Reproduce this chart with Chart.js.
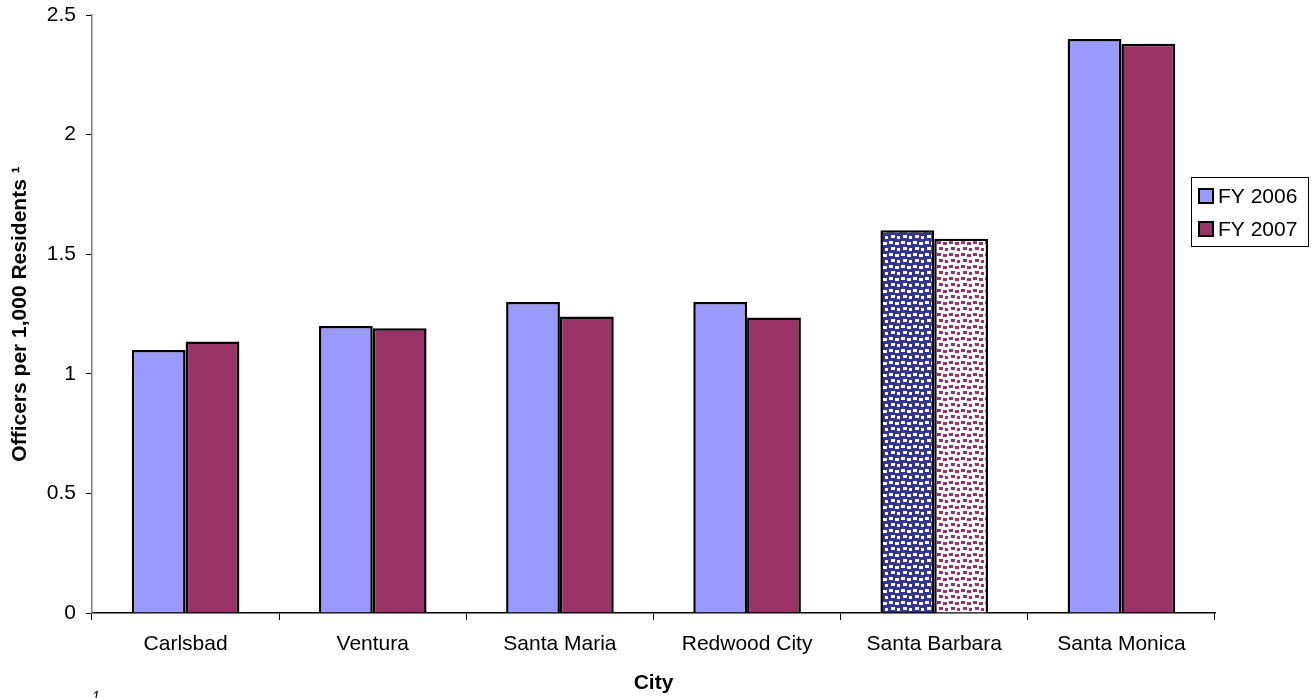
<!DOCTYPE html>
<html>
<head>
<meta charset="utf-8">
<script src="https://cdn.jsdelivr.net/npm/chart.js@4"></script>
<style>
  html, body { margin: 0; padding: 0; background: #fff; }
  #wrap { width: 1314px; height: 698px; position: relative; }
</style>
</head>
<body>
<div id="wrap"><canvas id="chart" width="1314" height="698"></canvas></div>
<script>
// chart data
const cities = ['Carlsbad', 'Ventura', 'Santa Maria', 'Redwood City', 'Santa Barbara', 'Santa Monica'];
const fy2006 = [1.1, 1.2, 1.3, 1.3, 1.6, 2.4];
const fy2007 = [1.135, 1.19, 1.24, 1.235, 1.565, 2.38];
const seriesNames = ['FY 2006', 'FY 2007'];
const yTicks = [0, 0.5, 1, 1.5, 2, 2.5];

const FONT = 'Liberation Sans, Arial, sans-serif';
const BLUE = '#9999ff';
const MAROON = '#993366';

// dotted fill used for the highlighted city
function makePattern(bg, fg) {
  const c = document.createElement('canvas');
  c.width = 12; c.height = 12;
  const g = c.getContext('2d');
  g.fillStyle = bg;
  g.fillRect(0, 0, 12, 12);
  g.fillStyle = fg;
  g.fillRect(1, 1, 4, 3);
  g.fillRect(7, 2, 4, 3);
  g.fillRect(3, 7, 4, 3);
  g.fillRect(9, 8, 3, 3);
  return g.createPattern(c, 'repeat');
}
const ctx = document.getElementById('chart').getContext('2d');
const bluePattern = makePattern('#333399', '#ffffff');
const maroonPattern = makePattern('#ffffff', MAROON);

const highlight = 'Santa Barbara';
const colors2006 = cities.map(c => c === highlight ? bluePattern : BLUE);
const colors2007 = cities.map(c => c === highlight ? maroonPattern : MAROON);

// legend box + footnote drawn by hand
const extras = {
  id: 'extras',
  afterDraw(chart) {
    const g = chart.ctx;
    g.save();
    // legend
    g.fillStyle = '#fff';
    g.fillRect(1191, 177, 117, 69);
    g.strokeStyle = '#000';
    g.lineWidth = 1;
    g.strokeRect(1191.5, 177.5, 117, 69);
    const swatches = [BLUE, MAROON];
    const ys = [196, 229];
    g.font = '21px ' + FONT;
    g.textBaseline = 'middle';
    for (let i = 0; i < 2; i++) {
      g.fillStyle = swatches[i];
      g.fillRect(1199, ys[i] - 7, 14, 14);
      g.lineWidth = 2;
      g.strokeStyle = '#000';
      g.strokeRect(1199, ys[i] - 7, 14, 14);
      g.fillStyle = '#000';
      g.fillText(seriesNames[i], 1218, ys[i] + 1);
    }
    // footnote marker
    g.font = 'italic 14px ' + FONT;
    g.textBaseline = 'top';
    g.fillText('1', 92, 690);
    g.restore();
  }
};

new Chart(ctx, {
  type: 'bar',
  data: {
    labels: cities,
    datasets: [
      { label: seriesNames[0], data: fy2006, backgroundColor: colors2006, borderColor: '#000', borderWidth: 2.5, borderSkipped: 'bottom' },
      { label: seriesNames[1], data: fy2007, backgroundColor: colors2007, borderColor: '#000', borderWidth: 2.5, borderSkipped: 'bottom' }
    ]
  },
  options: {
    responsive: false,
    animation: false,
    events: [],
    layout: { padding: { left: 0, right: 99, top: 15, bottom: 0 } },
    datasets: { bar: { categoryPercentage: 0.575, barPercentage: 1.0 } },
    plugins: {
      legend: { display: false },
      tooltip: { enabled: false }
    },
    scales: {
      x: {
        offset: true,
        afterFit(s) { s.height = 85; s.paddingLeft = 0; s.paddingRight = 0; },
        grid: { offset: true, drawOnChartArea: false, tickLength: 7, color: '#000', tickColor: '#000' },
        border: { color: '#000', width: 1.5 },
        ticks: { color: '#000', font: { family: FONT, size: 21 }, padding: 12, maxRotation: 0 },
        title: { display: true, text: 'City', color: '#000', font: { family: FONT, size: 21, weight: 'bold' }, padding: { top: 4, bottom: 2 } }
      },
      y: {
        min: 0, max: 2.5,
        afterFit(s) { s.width = 92; s.paddingTop = 0; s.paddingBottom = 0; },
        afterBuildTicks(s) { s.ticks = yTicks.map(v => ({ value: v })); },
        grid: { drawOnChartArea: false, tickLength: 6, color: '#808080', tickColor: '#000' },
        border: { color: '#808080', width: 1.5 },
        ticks: { color: '#000', font: { family: FONT, size: 21 }, padding: 10, callback: v => String(v) },
        title: { display: true, text: 'Officers per 1,000 Residents ¹', color: '#000', font: { family: FONT, size: 21, weight: 'bold' }, padding: { top: 8, bottom: 4 } }
      }
    }
  },
  plugins: [extras]
});
</script>
</body>
</html>
